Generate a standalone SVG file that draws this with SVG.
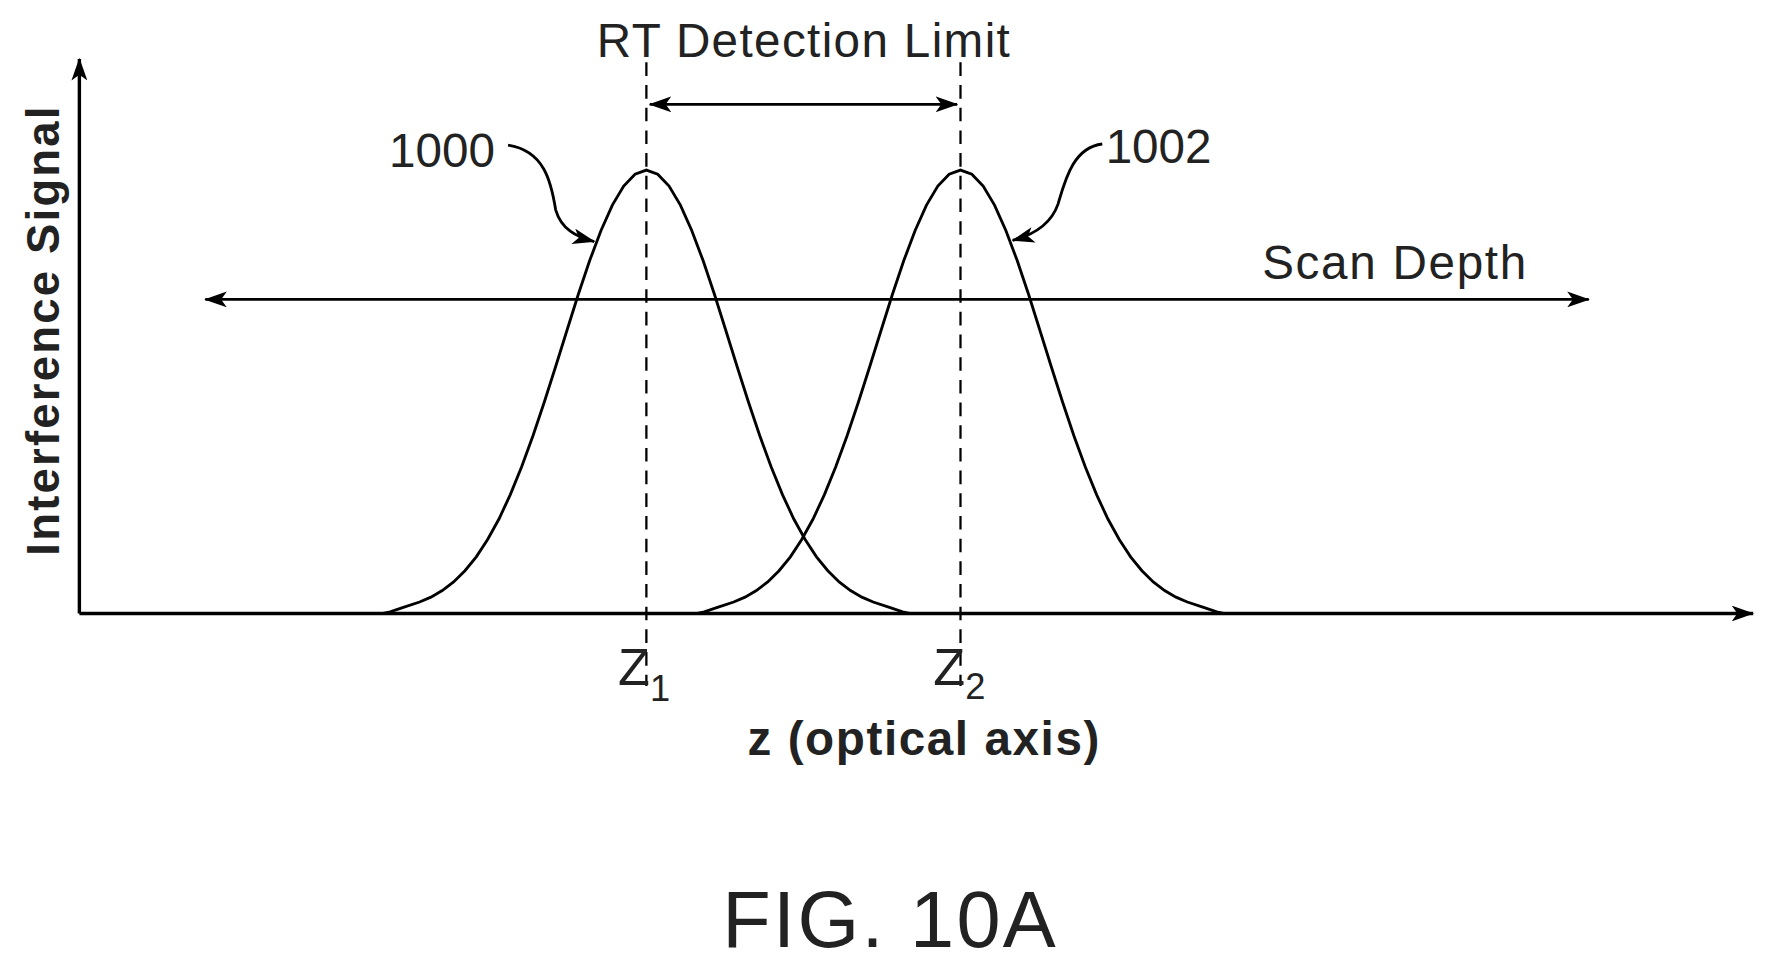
<svg xmlns="http://www.w3.org/2000/svg" xmlns:xlink="http://www.w3.org/1999/xlink" width="1778" height="969" viewBox="0 0 1778 969">
<style>
.ln{fill:none;stroke:#000;stroke-width:2.5}
.ax{fill:none;stroke:#000;stroke-width:3}
.dash{fill:none;stroke:#000;stroke-width:2;stroke-dasharray:12,8}
.t{font-family:"Liberation Sans",Arial,sans-serif;fill:#222}
.b{font-family:"Liberation Sans",Arial,sans-serif;font-weight:bold;fill:#222}
</style>
<defs>
<marker id="ah" viewBox="0 0 20 14" refX="19" refY="7" markerWidth="20" markerHeight="14" markerUnits="userSpaceOnUse" orient="auto-start-reverse">
<path d="M0,0 L20,7 L0,14 L5,7 Z" fill="#000"/>
</marker>
<path id="g" d="M-232,541 L-226,539.5 L-215,535.8 L-200,530.9 L-190,526.6 L-180,520.8 L-170,513.2 L-160,503.3 L-150,491 L-140,475.7 L-130,457.7 L-120,436.2 L-110,411.6 L-100,384.2 L-90,354.5 L-80,323.2 L-70,291.2 L-60,259.5 L-50,229.8 L-40,203.2 L-30,180.9 L-20,164.1 L-10,153.6 L0,150 L10,153.6 L20,164.1 L30,180.9 L40,203.2 L50,229.8 L60,259.5 L70,291.2 L80,323.2 L90,354.5 L100,384.2 L110,411.6 L120,436.2 L130,457.7 L140,475.7 L150,491 L160,503.3 L170,513.2 L180,520.8 L190,526.6 L200,530.9 L215,535.8 L226,539.5 L232,541"/>
</defs>
<rect width="1778" height="969" fill="#fff"/>
<g transform="scale(1.134)">
<g id="axes">
<path class="ax" d="M70,541 L70,52" marker-end="url(#ah)"/>
<path class="ax" d="M70,541 L1546,541" marker-end="url(#ah)"/>
</g>
<g id="curve1000"><use xlink:href="#g" class="ln" transform="translate(570,0)"/></g>
<g id="curve1002"><use xlink:href="#g" class="ln" transform="translate(847,0)"/></g>
<g id="connectors">
<path class="dash" d="M570,55 L570,605"/>
<path class="dash" d="M847,55 L847,605"/>
<path class="ln" d="M573,92 L844,92" marker-start="url(#ah)" marker-end="url(#ah)"/>
<path class="ln" d="M181,264 L1401,264" marker-start="url(#ah)" marker-end="url(#ah)"/>
<path class="ln" d="M448,128 C480,133 486,160 490,185 C495,202 508,209 524,213" marker-end="url(#ah)"/>
<path class="ln" d="M972,127 C946,130 939,160 933,180 C926,200 908,208 893,212" marker-end="url(#ah)"/>
</g>
<g id="labels">
<text class="t" x="709" y="50" font-size="42" letter-spacing="1.2" text-anchor="middle">RT Detection Limit</text>
<text class="t" x="343" y="147" font-size="42">1000</text>
<text class="t" x="975" y="144" font-size="42">1002</text>
<text class="t" x="1113" y="246" font-size="42" letter-spacing="1.5">Scan Depth</text>
<text class="b" transform="translate(52,291) rotate(-90)" font-size="40" letter-spacing="2" text-anchor="middle">Interference Signal</text>
<text class="t" x="545" y="604" font-size="46">Z<tspan font-size="32" dy="14">1</tspan></text>
<text class="t" x="823" y="604" font-size="46">Z<tspan font-size="32" dy="12">2</tspan></text>
<text class="b" x="815" y="666" font-size="42" letter-spacing="1.4" text-anchor="middle">z (optical axis)</text>
<text class="t" x="785" y="835" font-size="70" letter-spacing="2" text-anchor="middle">FIG. 10A</text>
</g>
</g>
</svg>
